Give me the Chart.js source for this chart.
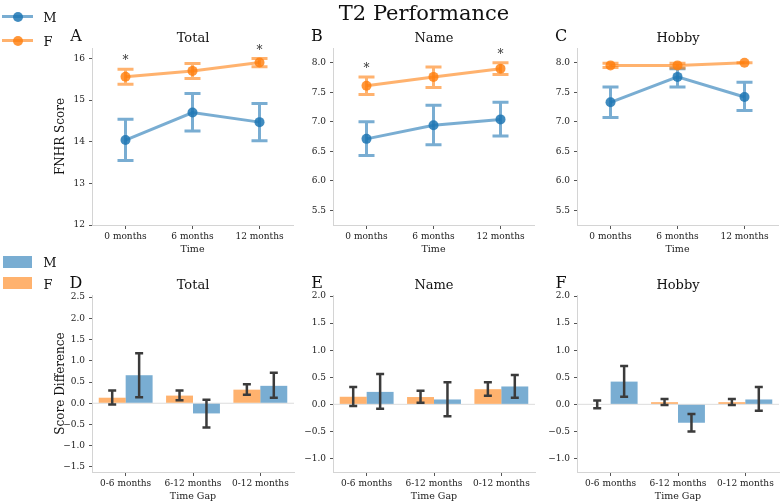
<!DOCTYPE html>
<html>
<head>
<meta charset="utf-8">
<script src="https://cdn.jsdelivr.net/npm/chart.js@4.4.0/dist/chart.umd.min.js"></script>
<style>
  body { margin: 0; width: 780px; height: 503px; background: #fff; position: relative; overflow: hidden; font-family: "DejaVu Serif", serif; color: #111; }
  canvas { position: absolute; }
  .txt { position: absolute; transform: translate(-50%, -50%); white-space: nowrap; }
  .box { position: absolute; }
</style>
</head>
<body>
<script>
// categories
const timeLabels = ["0 months", "6 months", "12 months"];
const gapLabels = ["0-6 months", "6-12 months", "0-12 months"];

// tick labels
const ticksTotal = [12, 13, 14, 15, 16];
const ticksSub = [5.5, 6.0, 6.5, 7.0, 7.5, 8.0];
const ticksDiffTotal = [-1.5, -1.0, -0.5, 0.0, 0.5, 1.0, 1.5, 2.0, 2.5];
const ticksDiffSub = [-1.0, -0.5, 0.0, 0.5, 1.0, 1.5, 2.0];

// A - Total scores
const totalM = [14.04, 14.70, 14.47];
const totalMLow = [13.55, 14.26, 14.02];
const totalMHigh = [14.54, 15.16, 14.92];
const totalF = [15.56, 15.70, 15.90];
const totalFLow = [15.38, 15.52, 15.80];
const totalFHigh = [15.74, 15.88, 16.00];
const totalStars = [true, false, true];

// B - Name scores
const nameM = [6.71, 6.94, 7.04];
const nameMLow = [6.43, 6.61, 6.76];
const nameMHigh = [7.00, 7.28, 7.33];
const nameF = [7.61, 7.76, 7.90];
const nameFLow = [7.46, 7.58, 7.80];
const nameFHigh = [7.76, 7.93, 8.00];
const nameStars = [true, false, true];

// C - Hobby scores
const hobbyM = [7.33, 7.76, 7.42];
const hobbyMLow = [7.07, 7.59, 7.19];
const hobbyMHigh = [7.59, 7.90, 7.67];
const hobbyF = [7.955, 7.955, 8.00];
const hobbyFLow = [7.92, 7.91, 8.00];
const hobbyFHigh = [7.99, 7.99, 8.00];
const hobbyStars = [false, false, false];

// D - Total differences
const dTotalF = [0.13, 0.18, 0.32];
const dTotalFLow = [-0.03, 0.07, 0.20];
const dTotalFHigh = [0.30, 0.30, 0.45];
const dTotalM = [0.66, -0.24, 0.41];
const dTotalMLow = [0.14, -0.57, 0.13];
const dTotalMHigh = [1.18, 0.08, 0.72];

// E - Name differences
const dNameF = [0.14, 0.135, 0.28];
const dNameFLow = [-0.03, 0.03, 0.16];
const dNameFHigh = [0.32, 0.25, 0.41];
const dNameM = [0.23, 0.09, 0.33];
const dNameMLow = [-0.08, -0.22, 0.12];
const dNameMHigh = [0.56, 0.41, 0.54];

// F - Hobby differences
const dHobbyF = [0.0, 0.04, 0.04];
const dHobbyFLow = [-0.07, -0.01, -0.01];
const dHobbyFHigh = [0.07, 0.10, 0.10];
const dHobbyM = [0.42, -0.34, 0.09];
const dHobbyMLow = [0.14, -0.50, -0.12];
const dHobbyMHigh = [0.71, -0.18, 0.32];

const BLUE_LINE = "rgba(31,119,180,0.6)";
const BLUE_PT = "rgba(31,119,180,0.85)";
const ORANGE_LINE = "rgba(255,127,14,0.6)";
const ORANGE_PT = "rgba(255,127,14,0.82)";
const FONT = "DejaVu Serif";

function addText(text, x, y, size, extra) {
  const d = document.createElement("div");
  d.className = "txt";
  d.textContent = text;
  d.style.left = x + "px";
  d.style.top = y + "px";
  d.style.fontSize = size + "px";
  if (extra) Object.assign(d.style, extra);
  document.body.appendChild(d);
}

function addBox(x, y, w, h, color, radius) {
  const d = document.createElement("div");
  d.className = "box";
  Object.assign(d.style, { left: x + "px", top: y + "px", width: w + "px", height: h + "px", background: color });
  if (radius) d.style.borderRadius = radius;
  document.body.appendChild(d);
}

// error bars (and significance stars) drawn from each dataset's low/high arrays
const errorBars = {
  id: "errorBars",
  beforeDatasetsDraw(chart) {
    const yScale = chart.scales.y;
    const area = chart.chartArea;
    const ctx = chart.ctx;
    if (chart.config.type === "bar") {
      // light zero line
      const y0 = yScale.getPixelForValue(0);
      ctx.save();
      ctx.strokeStyle = "#dcdcdc";
      ctx.lineWidth = 1;
      ctx.beginPath();
      ctx.moveTo(area.left, y0);
      ctx.lineTo(area.right, y0);
      ctx.stroke();
      ctx.restore();
      return;
    }
    drawErrors(chart);
  },
  afterDatasetsDraw(chart) {
    if (chart.config.type === "bar") drawErrors(chart);
    const yScale = chart.scales.y;
    const ctx = chart.ctx;
    chart.data.datasets.forEach((ds, i) => {
      if (!ds.stars) return;
      const meta = chart.getDatasetMeta(i);
      ds.stars.forEach((s, j) => {
        if (!s) return;
        const x = meta.data[j].x;
        const y = yScale.getPixelForValue(ds.errHigh[j]) - 10;
        ctx.save();
        ctx.fillStyle = "#333";
        ctx.font = "12px " + FONT;
        ctx.textAlign = "center";
        ctx.textBaseline = "middle";
        ctx.fillText("*", x, y + 2);
        ctx.restore();
      });
    });
  },
};

function drawErrors(chart) {
  const yScale = chart.scales.y;
  const ctx = chart.ctx;
  chart.data.datasets.forEach((ds, i) => {
    const meta = chart.getDatasetMeta(i);
    ds.errLow.forEach((lo, j) => {
      const x = meta.data[j].x;
      const yLo = yScale.getPixelForValue(lo);
      const yHi = yScale.getPixelForValue(ds.errHigh[j]);
      ctx.save();
      ctx.strokeStyle = ds.errColor;
      ctx.lineWidth = ds.errWidth;
      ctx.beginPath();
      ctx.moveTo(x, yLo);
      ctx.lineTo(x, yHi);
      ctx.moveTo(x - ds.cap, yLo);
      ctx.lineTo(x + ds.cap, yLo);
      ctx.moveTo(x - ds.cap, yHi);
      ctx.lineTo(x + ds.cap, yHi);
      ctx.stroke();
      ctx.restore();
    });
  });
}

function fmtTick(v) {
  const s = Number.isInteger(v) && Math.abs(v) >= 10 ? String(v) : Math.abs(v).toFixed(1);
  return v < 0 ? "\u2212" + s : s;
}

function makeScales(tickValues, min, max, xTitle, yTitle) {
  const tickFont = { family: FONT, size: 9 };
  return {
    x: {
      offset: true,
      grid: { drawOnChartArea: false, tickLength: 4, tickColor: "#555", offset: false },
      border: { color: "#d4d4d4" },
      ticks: { font: tickFont, color: "#222", padding: 2, maxRotation: 0, autoSkip: false },
      title: { display: true, text: xTitle, font: { family: FONT, size: 9.5 }, color: "#222", padding: { top: 0, bottom: 2 } },
      afterFit: (s) => { s.height = 32; },
    },
    y: {
      min: min,
      max: max,
      afterBuildTicks: (s) => { s.ticks = tickValues.map((v) => ({ value: v })); },
      grid: { drawOnChartArea: false, tickLength: 3, tickColor: "#555" },
      border: { color: "#d4d4d4" },
      ticks: { font: tickFont, color: "#222", padding: 4, callback: (v) => fmtTick(v) },
      title: { display: !!yTitle, text: yTitle || "", font: { family: FONT, size: 12 }, color: "#111", padding: { top: 2, bottom: 0 } },
      afterFit: (s) => { s.width = 40; },
    },
  };
}

function lineDs(label, data, lo, hi, line, pt, stars) {
  return {
    label: label, data: data, errLow: lo, errHigh: hi, stars: stars,
    borderColor: line, borderWidth: 3, backgroundColor: pt,
    pointRadius: 5, pointBackgroundColor: pt, pointBorderWidth: 0,
    errColor: line, errWidth: 3, cap: 8,
  };
}

function barDs(label, data, lo, hi, color) {
  return {
    label: label, data: data, errLow: lo, errHigh: hi,
    backgroundColor: color, borderWidth: 0,
    categoryPercentage: 0.8, barPercentage: 1.0,
    errColor: "#3b3b3b", errWidth: 2.5, cap: 4,
  };
}

function makeCanvas(left, top, w, h) {
  const c = document.createElement("canvas");
  c.width = w;
  c.height = h;
  c.style.left = left + "px";
  c.style.top = top + "px";
  document.body.appendChild(c);
  return c;
}

const PLOT_W = 202;
const PLOT_H = 177;
const panelLefts = [92, 333, 577];

function linePanel(col, letter, title, m, mLo, mHi, f, fLo, fHi, stars, ticks, min, max, yTitle) {
  const axisLeft = panelLefts[col];
  const padTop = 20;
  const c = makeCanvas(axisLeft - 40, 48 - padTop, 40 + PLOT_W + 4, padTop + PLOT_H + 32);
  new Chart(c, {
    type: "line",
    data: {
      labels: timeLabels,
      datasets: [
        lineDs("M", m, mLo, mHi, BLUE_LINE, BLUE_PT, null),
        lineDs("F", f, fLo, fHi, ORANGE_LINE, ORANGE_PT, stars),
      ],
    },
    options: {
      responsive: false,
      animation: false,
      layout: { padding: { top: padTop, right: 4 } },
      plugins: { legend: { display: false }, tooltip: { enabled: false } },
      scales: makeScales(ticks, min, max, "Time", yTitle),
    },
    plugins: [errorBars],
  });
  addText(title, axisLeft + PLOT_W / 2, 37, 13);
  addText(letter, axisLeft - 16, 35, 16);
}

function barPanel(col, letter, title, f, fLo, fHi, m, mLo, mHi, ticks, min, max, yTitle) {
  const axisLeft = panelLefts[col];
  const padTop = 10;
  const c = makeCanvas(axisLeft - 40, 295 - padTop, 40 + PLOT_W + 4, padTop + PLOT_H + 32);
  new Chart(c, {
    type: "bar",
    data: {
      labels: gapLabels,
      datasets: [
        barDs("F", f, fLo, fHi, ORANGE_LINE),
        barDs("M", m, mLo, mHi, BLUE_LINE),
      ],
    },
    options: {
      responsive: false,
      animation: false,
      layout: { padding: { top: padTop, right: 4 } },
      plugins: { legend: { display: false }, tooltip: { enabled: false } },
      scales: makeScales(ticks, min, max, "Time Gap", yTitle),
    },
    plugins: [errorBars],
  });
  addText(title, axisLeft + PLOT_W / 2, 284, 13);
  addText(letter, axisLeft - 16, 282, 16);
}

linePanel(0, "A", "Total", totalM, totalMLow, totalMHigh, totalF, totalFLow, totalFHigh, totalStars, ticksTotal, 12, 16.25, "FNHR Score");
linePanel(1, "B", "Name", nameM, nameMLow, nameMHigh, nameF, nameFLow, nameFHigh, nameStars, ticksSub, 5.25, 8.25, null);
linePanel(2, "C", "Hobby", hobbyM, hobbyMLow, hobbyMHigh, hobbyF, hobbyFLow, hobbyFHigh, hobbyStars, ticksSub, 5.25, 8.25, null);

barPanel(0, "D", "Total", dTotalF, dTotalFLow, dTotalFHigh, dTotalM, dTotalMLow, dTotalMHigh, ticksDiffTotal, -1.62, 2.55, "Score Difference");
barPanel(1, "E", "Name", dNameF, dNameFLow, dNameFHigh, dNameM, dNameMLow, dNameMHigh, ticksDiffSub, -1.25, 2.02, null);
barPanel(2, "F", "Hobby", dHobbyF, dHobbyFLow, dHobbyFHigh, dHobbyM, dHobbyMLow, dHobbyMHigh, ticksDiffSub, -1.25, 2.02, null);

// suptitle
addText("T2 Performance", 424, 13, 21);

// legends (upper: line + marker, lower: bar swatches)
addBox(2, 15, 31, 3, BLUE_LINE);
addBox(13, 11.5, 10, 10, BLUE_PT, "50%");
addText("M", 50, 17, 13);
addBox(2, 39, 31, 3, ORANGE_LINE);
addBox(13, 35.5, 10, 10, ORANGE_PT, "50%");
addText("F", 48, 41, 13);

addBox(3, 256, 29, 12, BLUE_LINE);
addText("M", 50, 262, 13);
addBox(3, 277, 29, 12, ORANGE_LINE);
addText("F", 48, 284, 13);
</script>
</body>
</html>
